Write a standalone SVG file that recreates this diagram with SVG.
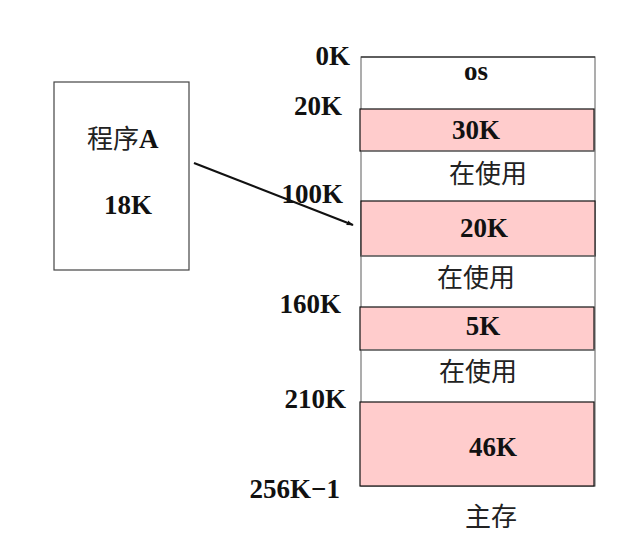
<svg xmlns="http://www.w3.org/2000/svg" width="639" height="557" viewBox="0 0 639 557">
  <style>
    .lbl { font-family: "Liberation Serif", "Times New Roman", serif; font-weight: bold; font-size: 27px; fill: #111; }
    .addr { text-anchor: end; }
    .mid { text-anchor: middle; }
    .cjk { font-family: "Liberation Serif", "Noto Sans CJK SC", serif; font-size: 26px; fill: #222; }
    .free { fill: #FFCCCC; stroke: #111; stroke-width: 1.2; }
    .frame { fill: #fff; stroke: #777; stroke-width: 1.2; }
    .box { fill: #fff; stroke: #444; stroke-width: 1.2; }
  </style>
  <defs>
    <marker id="arrow" viewBox="0 0 10 10" refX="9" refY="5" markerWidth="7" markerHeight="7" orient="auto" markerUnits="userSpaceOnUse">
      <path d="M0,1.5 L10,5 L0,8.5 z" fill="#111"/>
    </marker>
  </defs>
  <rect width="639" height="557" fill="#fff"/>

  <!-- main memory column -->
  <g id="memory">
    <rect class="frame" x="361" y="57" width="234" height="429"/>
    <line x1="361" y1="57" x2="595" y2="57" stroke="#111" stroke-width="1.2"/>
  </g>
  <g id="os">
    <text class="lbl mid" x="476" y="80">os</text>
  </g>
  <g id="free-30k">
    <rect class="free" x="360" y="109" width="234" height="42"/>
    <text class="lbl mid" x="476" y="139">30K</text>
  </g>
  <g id="used-1">
    <line x1="361" y1="151" x2="595" y2="151" stroke="#888"/>
    <text class="cjk mid" x="488" y="183">在使用</text>
  </g>
  <g id="free-20k">
    <rect class="free" x="361" y="201" width="234" height="55"/>
    <text class="lbl mid" x="484" y="237">20K</text>
  </g>
  <g id="used-2">
    <line x1="361" y1="256" x2="595" y2="256" stroke="#888"/>
    <text class="cjk mid" x="476" y="287">在使用</text>
  </g>
  <g id="free-5k">
    <rect class="free" x="360" y="307" width="234" height="43"/>
    <text class="lbl mid" x="483" y="335">5K</text>
  </g>
  <g id="used-3">
    <line x1="361" y1="350" x2="595" y2="350" stroke="#888"/>
    <text class="cjk mid" x="478" y="381">在使用</text>
  </g>
  <g id="free-46k">
    <rect class="free" x="360" y="402" width="234" height="84"/>
    <text class="lbl mid" x="493" y="456">46K</text>
  </g>
  <g id="caption">
    <text class="cjk mid" x="491" y="526">主存</text>
  </g>

  <!-- address marks -->
  <g id="addresses">
    <text class="lbl addr" x="350" y="65">0K</text>
    <text class="lbl addr" x="342" y="115">20K</text>
    <text class="lbl addr" x="343" y="203">100K</text>
    <text class="lbl addr" x="341" y="313">160K</text>
    <text class="lbl addr" x="346" y="408">210K</text>
    <text class="lbl addr" x="340" y="498">256K−1</text>
  </g>

  <!-- program to be loaded -->
  <g id="program-a">
    <rect class="box" x="54" y="82" width="135" height="188"/>
    <text class="lbl" x="87" y="148"><tspan class="cjk" font-weight="normal">程序</tspan>A</text>
    <text class="lbl" x="104" y="214">18K</text>
  </g>

  <g id="connectors">
    <line x1="194" y1="163" x2="353" y2="225" stroke="#111" stroke-width="2.2" marker-end="url(#arrow)"/>
  </g>
</svg>
